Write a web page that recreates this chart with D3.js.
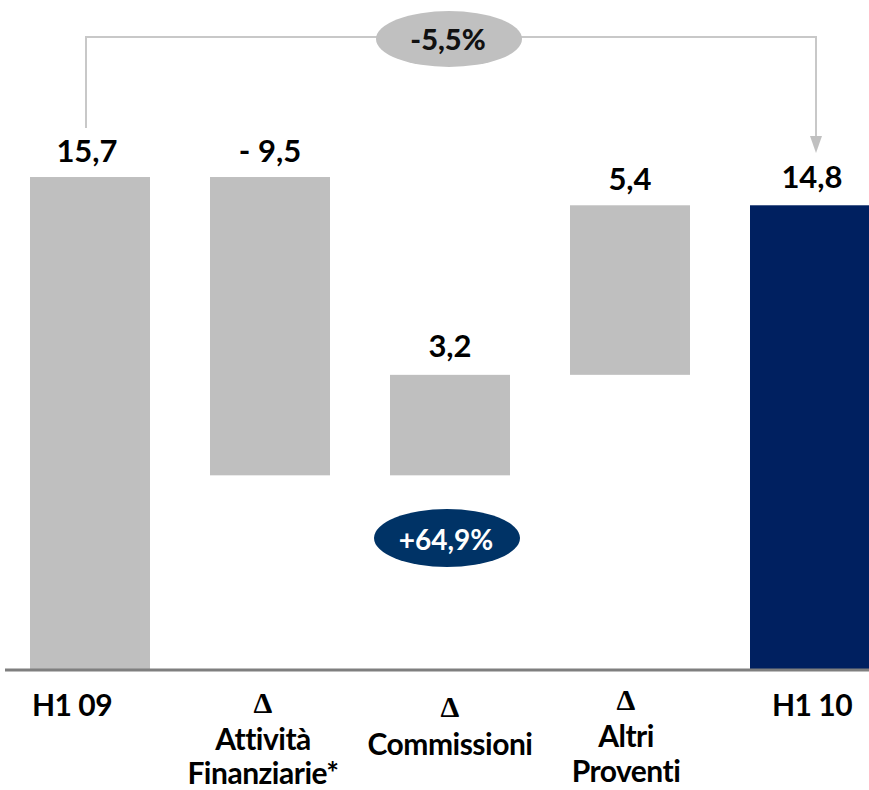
<!DOCTYPE html>
<html>
<head>
<meta charset="utf-8">
<script src="https://cdn.jsdelivr.net/npm/d3@7"></script>
<style>
  body { margin: 0; background: #fff; }
  svg { display: block; }
</style>
</head>
<body>
<div id="chart"></div>
<script>
const FRAME_WIDTH = 869;
const FRAME_HEIGHT = 790;
const BASE_Y = 670;
const FONT = "Lato, 'Open Sans', sans-serif";

// data
const categories = ["H1 09", "Attività Finanziarie*", "Commissioni", "Altri Proventi", "H1 10"];
const values = [15.7, -9.5, 3.2, 5.4, 14.8];
const kinds = ["total", "delta", "delta", "delta", "total"];
const valueLabels = ["15,7", "- 9,5", "3,2", "5,4", "14,8"];
const catLines = [["H1 09"], ["Δ", "Attività", "Finanziarie*"], ["Δ", "Commissioni"], ["Δ", "Altri", "Proventi"], ["H1 10"]];
const totalChange = "-5,5%";
const commChange = "+64,9%";

// build waterfall start/end
let running = 0;
const bars = categories.map((c, i) => {
  let start, end;
  if (kinds[i] === "total") { start = 0; end = values[i]; running = values[i]; }
  else { start = running; end = running + values[i]; running = end; }
  return { cat: c, start: start, end: end, i: i };
});

const svg = d3.select("#chart").append("svg")
  .attr("width", FRAME_WIDTH)
  .attr("height", FRAME_HEIGHT);

const X_SCALE = d3.scaleBand()
  .domain(categories)
  .range([0, 900])
  .paddingInner(1 / 3)
  .paddingOuter(1 / 6);

const Y_SCALE = d3.scaleLinear()
  .domain([0, 20])
  .range([BASE_Y, 42]);

const center = (c) => X_SCALE(c) + X_SCALE.bandwidth() / 2;

// bars
svg.selectAll(".bar")
  .data(bars)
  .enter()
  .append("rect")
    .attr("class", "bar")
    .attr("x", d => X_SCALE(d.cat))
    .attr("y", d => Y_SCALE(Math.max(d.start, d.end)))
    .attr("width", X_SCALE.bandwidth())
    .attr("height", d => Math.abs(Y_SCALE(d.start) - Y_SCALE(d.end)))
    .attr("fill", d => d.i === categories.length - 1 ? "#002060" : "#bfbfbf");

// baseline
svg.append("line")
  .attr("x1", 5).attr("x2", FRAME_WIDTH)
  .attr("y1", BASE_Y).attr("y2", BASE_Y)
  .attr("stroke", "#7f7f7f")
  .attr("stroke-width", 3);

// value labels
const valGap = [15, 15, 18, 15, 17];
const valShift = [-3, 0, 0, 0, 2];
svg.selectAll(".val")
  .data(bars)
  .enter()
  .append("text")
    .attr("class", "val")
    .attr("x", d => center(d.cat) + valShift[d.i])
    .attr("y", d => Y_SCALE(Math.max(d.start, d.end)) - valGap[d.i])
    .attr("text-anchor", "middle")
    .attr("font-family", FONT)
    .attr("font-weight", "bold")
    .attr("font-size", "31px")
    .attr("fill", "#000")
    .text((d, i) => valueLabels[i]);

// category labels (baselines below the axis)
const catOffsets = [[46], [43, 80, 114], [47, 85], [40, 77, 112], [46]];
const catShift = [-18, -7, 0, -4, 2];
bars.forEach((d, i) => {
  const cx = center(d.cat) + catShift[i];
  catLines[i].forEach((line, j) => {
    const isDelta = line === "Δ";
    svg.append("text")
      .attr("x", cx)
      .attr("y", BASE_Y + catOffsets[i][j])
      .attr("text-anchor", "middle")
      .attr("font-family", isDelta ? "'Liberation Serif', 'DejaVu Serif', serif" : FONT)
      .attr("font-weight", "bold")
      .attr("font-size", isDelta ? "30px" : "30px")
      .attr("letter-spacing", isDelta ? 0 : "-0.5px")
      .attr("fill", "#000")
      .text(line);
  });
});

// connector from first total to last total
const firstX = center(categories[0]) - 4;
const lastX = center(categories[4]) + 6;
const topY = 37;
svg.append("path")
  .attr("d", `M${firstX},128 L${firstX},${topY} L${lastX},${topY} L${lastX},138`)
  .attr("fill", "none")
  .attr("stroke", "#c8c8c8")
  .attr("stroke-width", 2);
svg.append("path")
  .attr("d", `M${lastX - 6},136 L${lastX + 6},136 L${lastX},153 Z`)
  .attr("fill", "#c0c0c0");

const midX = center(categories[2]);
svg.append("ellipse")
  .attr("cx", midX - 1).attr("cy", 39)
  .attr("rx", 73).attr("ry", 28)
  .attr("fill", "#c0c0c0");
svg.append("text")
  .attr("x", midX - 2).attr("y", 50)
  .attr("text-anchor", "middle")
  .attr("font-family", FONT)
  .attr("font-weight", "900")
  .attr("font-size", "29px")
  .attr("fill", "#111")
  .text(totalChange);

// commissioni change badge
svg.append("ellipse")
  .attr("cx", midX - 3).attr("cy", 538)
  .attr("rx", 73).attr("ry", 29)
  .attr("fill", "#003366");
svg.append("text")
  .attr("x", midX - 4).attr("y", 550)
  .attr("text-anchor", "middle")
  .attr("font-family", FONT)
  .attr("font-weight", "bold")
  .attr("font-size", "28px")
  .attr("fill", "#fff")
  .text(commChange);
</script>
</body>
</html>
